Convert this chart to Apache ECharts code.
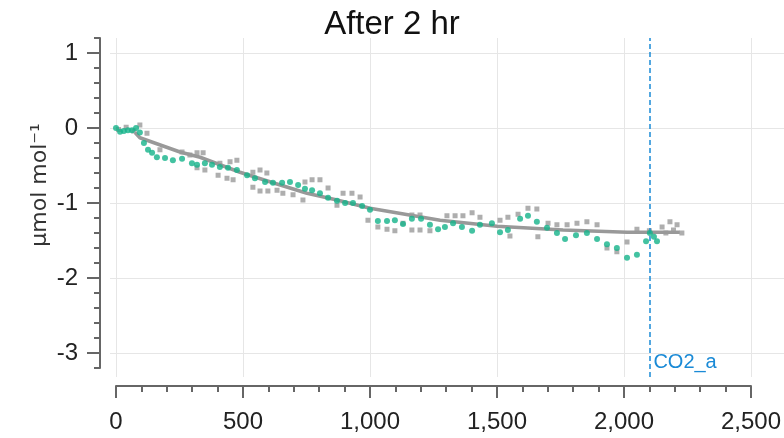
<!DOCTYPE html>
<html>
<head>
<meta charset="utf-8">
<script src="https://cdn.jsdelivr.net/npm/echarts@6/dist/echarts.min.js"></script>
<style>html,body{margin:0;padding:0;background:#fff}#c{width:784px;height:438px}</style>
</head>
<body>
<div id="c"></div>
<script>
const titleText = 'After 2 hr';
const yAxisName = 'μmol mol⁻¹';
const markName = 'CO2_a';
const markX = 2100;

const xTicks = [0, 500, 1000, 1500, 2000, 2500];
const yTicks = [-3, -2, -1, 0, 1];

const greenX = [0,16,31,47,63,79,94,110,126,142,161,193,224,260,299,319,350,378,409,441,476,516,547,587,618,654,685,717,744,772,803,835,870,902,933,969,1000,1031,1067,1098,1130,1165,1201,1236,1268,1295,1327,1362,1402,1433,1480,1512,1543,1591,1622,1657,1697,1736,1768,1811,1854,1894,1933,1972,2012,2051,2087,2102,2118,2130];
const greenY = [0,-0.05,-0.04,-0.03,-0.03,0.0,-0.06,-0.20,-0.29,-0.33,-0.39,-0.40,-0.43,-0.41,-0.47,-0.49,-0.47,-0.49,-0.52,-0.53,-0.56,-0.63,-0.67,-0.72,-0.73,-0.73,-0.72,-0.76,-0.81,-0.83,-0.87,-0.93,-0.97,-1.00,-1.00,-1.04,-1.09,-1.24,-1.24,-1.23,-1.28,-1.21,-1.21,-1.29,-1.35,-1.32,-1.27,-1.32,-1.37,-1.29,-1.27,-1.39,-1.36,-1.21,-1.17,-1.25,-1.33,-1.40,-1.48,-1.43,-1.40,-1.48,-1.55,-1.60,-1.73,-1.69,-1.51,-1.40,-1.45,-1.51];

const grayX = [10,40,70,94,122,173,260,291,319,343,319,350,402,409,437,449,461,476,539,539,567,567,594,598,634,657,697,736,744,772,803,835,870,894,929,961,992,1031,1067,1098,1130,1165,1165,1197,1197,1236,1303,1335,1366,1402,1433,1512,1543,1551,1583,1622,1657,1661,1701,1736,1776,1815,1854,1894,1933,1972,2012,2051,2100,2150,2165,2181,2195,2209,2228];
const grayY = [-0.02,0.01,-0.04,0.04,-0.07,-0.29,-0.32,-0.36,-0.33,-0.33,-0.53,-0.56,-0.63,-0.47,-0.67,-0.45,-0.69,-0.43,-0.59,-0.79,-0.56,-0.84,-0.60,-0.84,-0.83,-0.87,-0.89,-0.96,-0.72,-0.69,-0.69,-0.80,-1.03,-0.87,-0.87,-0.92,-1.23,-1.32,-1.35,-1.37,-1.27,-1.16,-1.36,-1.16,-1.36,-1.37,-1.17,-1.17,-1.17,-1.13,-1.19,-1.23,-1.19,-1.44,-1.15,-1.07,-1.08,-1.45,-1.27,-1.29,-1.29,-1.27,-1.25,-1.29,-1.60,-1.65,-1.52,-1.35,-1.37,-1.32,-1.40,-1.25,-1.36,-1.29,-1.40];

const trendX = [75,94,252,331,488,618,752,870,1000,1276,1500,1760,2012,2220];
const trendY = [-0.06,-0.13,-0.32,-0.39,-0.59,-0.73,-0.87,-0.96,-1.07,-1.23,-1.31,-1.36,-1.39,-1.39];

const zip = (a, b) => a.map((v, i) => [v, b[i]]);
const AX = '#666';
const GRID = '#e6e6e6';
const FONT = 'Liberation Sans';

const chart = echarts.init(document.getElementById('c'), null, {renderer: 'canvas'});
chart.setOption({
  animation: false,
  backgroundColor: '#fff',
  title: {
    text: titleText, left: 'center', top: 3,
    textStyle: {fontSize: 33, fontWeight: 'normal', color: '#111', fontFamily: FONT}
  },
  grid: [
    {left: 116, right: 33, top: 38, bottom: 70},
    {left: 110, right: 0, top: 53, bottom: 85},
    {left: 116, right: 33, top: 38, bottom: 61}
  ],
  xAxis: [
    {
      gridIndex: 0, type: 'value', min: xTicks[0], max: xTicks[xTicks.length - 1], interval: 500,
      offset: 18, position: 'bottom',
      axisLine: {show: true, onZero: false, lineStyle: {color: AX, width: 2}},
      axisTick: {show: true, length: 12, lineStyle: {color: AX, width: 2}},
      minorTick: {show: true, splitNumber: 5, length: 6, lineStyle: {color: AX, width: 2}},
      axisLabel: {fontSize: 24, color: '#222', margin: 24, fontFamily: FONT,
        formatter: v => Number(v).toLocaleString('en-US')},
      splitLine: {show: false}
    },
    {gridIndex: 1, type: 'value', min: 0, max: 1, show: false},
    {
      gridIndex: 2, type: 'value', min: xTicks[0], max: xTicks[xTicks.length - 1], interval: 500,
      axisLine: {show: false, onZero: false}, axisTick: {show: false}, axisLabel: {show: false},
      splitLine: {show: true, lineStyle: {color: GRID, width: 1}}
    }
  ],
  yAxis: [
    {
      gridIndex: 0, type: 'value', min: -3.2, max: 1.2, interval: 0.2, offset: 16, position: 'left',
      axisLine: {show: true, onZero: false, lineStyle: {color: AX, width: 2}},
      axisTick: {show: true, length: 6, lineStyle: {color: AX, width: 2}},
      axisLabel: {show: false},
      splitLine: {show: false}
    },
    {
      gridIndex: 1, type: 'value', min: yTicks[0], max: yTicks[yTicks.length - 1], interval: 1, offset: 10, position: 'left',
      axisLine: {show: false, onZero: false},
      axisTick: {show: true, length: 13, lineStyle: {color: AX, width: 2}},
      axisLabel: {fontSize: 24, color: '#222', margin: 22, fontFamily: FONT},
      splitLine: {show: true, lineStyle: {color: GRID, width: 1}}
    },
    {gridIndex: 2, type: 'value', min: -3.2, max: 1.2, show: false}
  ],
  series: [
    {
      type: 'line', xAxisIndex: 2, yAxisIndex: 2, data: [], silent: true,
      markLine: {
        silent: true, symbol: ['none', 'none'], label: {show: false},
        lineStyle: {type: [5, 3], color: '#1a8ad6', width: 1.5},
        data: [{xAxis: markX}]
      }
    },
    {
      type: 'scatter', xAxisIndex: 0, yAxisIndex: 0, data: zip(grayX, grayY),
      symbol: 'rect', symbolSize: 5, itemStyle: {color: '#9a9a9a'}, z: 3
    },
    {
      type: 'line', xAxisIndex: 0, yAxisIndex: 0, data: zip(trendX, trendY),
      showSymbol: false, symbol: 'none', lineStyle: {color: '#999', width: 3.5}, z: 4
    },
    {
      type: 'scatter', xAxisIndex: 0, yAxisIndex: 0, data: zip(greenX, greenY),
      symbol: 'circle', symbolSize: 6, itemStyle: {color: '#14b389'}, z: 5
    }
  ]
});

const px = chart.convertToPixel({xAxisIndex: 0}, markX);
chart.setOption({
  graphic: [
    {
      type: 'text', x: 40, y: 185, rotation: Math.PI / 2,
      style: {text: yAxisName, fontSize: 22, fill: '#333', fontFamily: 'DejaVu Sans', align: 'center', verticalAlign: 'middle'}
    },
    {
      type: 'text', x: px + 4, y: 362,
      style: {text: markName, fontSize: 20, fill: '#1a8ad6', fontFamily: FONT, align: 'left', verticalAlign: 'middle'}
    }
  ]
});
</script>
</body>
</html>
